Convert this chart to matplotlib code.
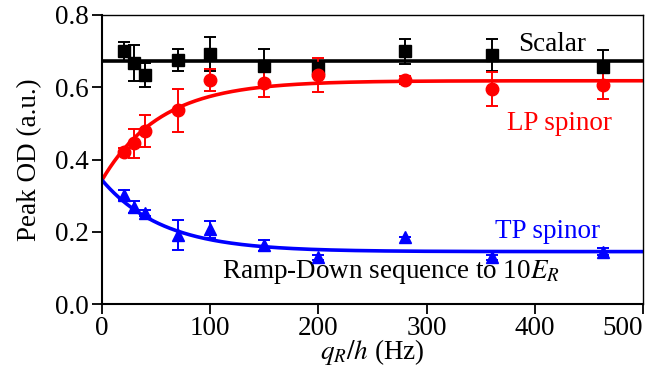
import numpy as np
import matplotlib
matplotlib.use("Agg")
import matplotlib.pyplot as plt

plt.rcParams['font.family'] = ['Liberation Serif', 'DejaVu Serif']
plt.rcParams['mathtext.fontset'] = 'stix'

# Data
q = [20, 30, 40, 70, 100, 150, 200, 280, 360, 463]
scalar = [0.699, 0.667, 0.634, 0.676, 0.692, 0.659, 0.654, 0.699, 0.690, 0.657]
scalar_err = [0.026, 0.049, 0.032, 0.031, 0.048, 0.047, 0.020, 0.034, 0.044, 0.047]
lp = [0.422, 0.445, 0.479, 0.536, 0.620, 0.611, 0.634, 0.620, 0.595, 0.607]
lp_err = [0.010, 0.040, 0.044, 0.059, 0.030, 0.038, 0.047, 0.010, 0.048, 0.040]
tp = [0.302, 0.268, 0.251, 0.191, 0.207, 0.163, 0.129, 0.185, 0.129, 0.145]
tp_err = [0.013, 0.017, 0.008, 0.042, 0.024, 0.015, 0.008, 0.000, 0.008, 0.010]

# Fit parameters (exponential approach)
scalar_level = 0.674
fit_start = 0.343
lp_inf, lp_tau = 0.618, 54.0
tp_inf, tp_tau = 0.145, 56.0

xticks = [0, 100, 200, 300, 400, 500]
yticks = [0.0, 0.2, 0.4, 0.6, 0.8]

FS = 19.5

fig = plt.figure(figsize=(6.49, 3.66), dpi=100)
ax = fig.add_axes([102/649, 62/366, 541/649, 289/366])

xf = np.linspace(0, 500, 400)
ax.axhline(scalar_level, color='black', lw=2.6, zorder=2)
ax.plot(xf, lp_inf - (lp_inf - fit_start) * np.exp(-xf / lp_tau), color='red', lw=2.6, zorder=2)
ax.plot(xf, tp_inf - (tp_inf - fit_start) * np.exp(-xf / tp_tau), color='blue', lw=2.6, zorder=2)

ekw = dict(ls='none', elinewidth=1.4, capsize=4.5, capthick=1.4, zorder=3)
ax.errorbar(q, scalar, yerr=scalar_err, fmt='s', color='black', ms=9, **ekw)
ax.errorbar(q, lp, yerr=lp_err, fmt='o', color='red', ms=9, **ekw)
ax.errorbar(q, tp, yerr=tp_err, fmt='^', color='blue', ms=9, **ekw)

ax.set_xlim(0, 500)
ax.set_ylim(0, 0.8)
ax.set_xticks(xticks)
ax.set_yticks(yticks)
ax.set_xticklabels([str(t) for t in xticks])
ax.set_yticklabels([f"{t:.1f}" for t in yticks])
ax.tick_params(direction='out', length=7.5, width=1.3, labelsize=FS, pad=2)
ax.tick_params(axis='x', pad=1)
for s in ['left', 'bottom']:
    ax.spines[s].set_linewidth(1.5)
for s in ['top', 'right']:
    ax.spines[s].set_linewidth(1.0)
lbls = ax.get_xticklabels()
lbls[-1].set_horizontalalignment('right')

ax.set_ylabel('Peak OD (a.u.)', fontsize=FS, labelpad=9)
ax.set_xlabel('$q_R/h$ (Hz)', fontsize=FS, labelpad=-2.5)

ax.text(416, 0.717, 'Scalar', color='black', fontsize=FS, ha='center', va='center')
ax.text(423, 0.499, 'LP spinor', color='red', fontsize=FS, ha='center', va='center')
ax.text(412, 0.20, 'TP spinor', color='blue', fontsize=FS, ha='center', va='center')
ax.text(267, 0.089, 'Ramp-Down sequence to 10$E_R$', color='black', fontsize=FS,
        ha='center', va='center')

fig.savefig('out.png', dpi=100)
